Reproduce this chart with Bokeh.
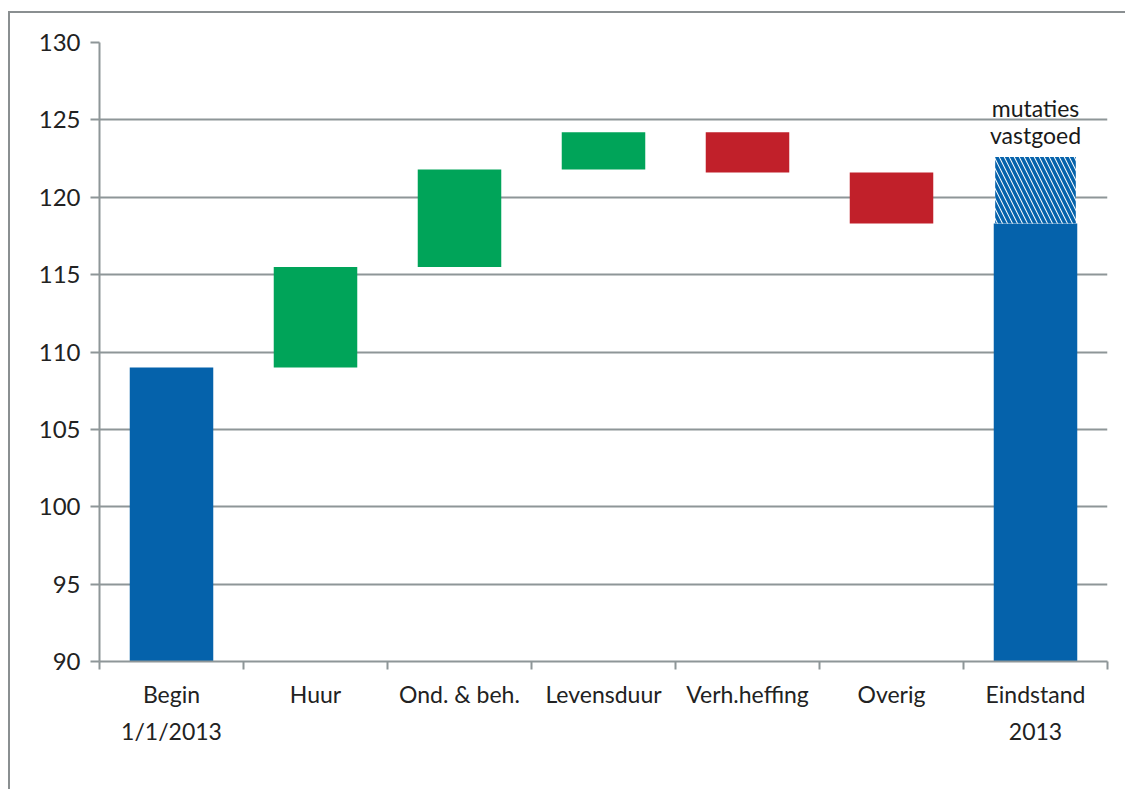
from bokeh.plotting import figure
from bokeh.models import FixedTicker, ColumnDataSource, Range1d
from bokeh.core.properties import value
from bokeh.embed import file_html
from bokeh.resources import INLINE

# ---- data ----
categories = ["Begin\n1/1/2013", "Huur", "Ond. & beh.", "Levensduur",
              "Verh.heffing", "Overig", "Eindstand\n2013"]
start_value = 109.0
changes = [6.5, 6.3, 2.4, -2.6, -3.3]          # Huur .. Overig
mutaties_vastgoed = 4.3
mutaties_label = "mutaties\nvastgoed"
y_ticks = [90, 95, 100, 105, 110, 115, 120, 125, 130]

BLUE = "#0562AB"
GREEN = "#00A459"
RED = "#C1202A"
GRID = "#8E9698"
EDGE = "#8a8f91"
FONT = "Lato"

y_min, y_max = y_ticks[0], y_ticks[-1]
n = len(categories)
xc = [i + 0.5 for i in range(n)]

# waterfall geometry from data
end_value = start_value + sum(changes)
bottoms, tops, colors = [y_min], [start_value], [BLUE]
run = start_value
for c in changes:
    nxt = run + c
    bottoms.append(min(run, nxt))
    tops.append(max(run, nxt))
    colors.append(GREEN if c >= 0 else RED)
    run = nxt
bottoms.append(y_min)
tops.append(end_value)
colors.append(BLUE)

src = ColumnDataSource(dict(x=xc, bottom=bottoms, top=tops, color=colors))

p = figure(width=1125, height=789, output_backend="svg", toolbar_location=None,
           x_range=Range1d(0, n), y_range=Range1d(y_min, y_max),
           min_border_left=99, min_border_top=42, min_border_right=18,
           min_border_bottom=128)
# outer chart border (left & top) drawn as host background behind a transparent canvas
p.styles = {
    "background": (f"linear-gradient({EDGE},{EDGE}) 8px 11px / 2px 100% no-repeat, "
                   f"linear-gradient({EDGE},{EDGE}) 8px 11px / 100% 2px no-repeat, white"),
}
p.outline_line_color = None
p.background_fill_color = "white"
p.border_fill_color = None

p.vbar(x="x", bottom="bottom", top="top", width=0.58, fill_color="color",
       line_color=None, source=src)

# hatched "mutaties vastgoed" segment on final bar
p.vbar(x=[xc[-1]], bottom=[end_value], top=[end_value + mutaties_vastgoed], width=0.56,
       fill_color="white", line_color=None, hatch_pattern="\\", hatch_color=BLUE,
       hatch_scale=10, hatch_weight=3.5)
p.text(x=[xc[-1]], y=[end_value + mutaties_vastgoed], text=[mutaties_label],
       text_align="center", text_baseline="bottom", y_offset=-8,
       text_font=value(FONT), text_font_size="23px", text_color="#1a1a1a",
       text_line_height=0.95)

# axes
p.xgrid.grid_line_color = None
p.ygrid.grid_line_color = GRID
p.ygrid.grid_line_width = 2
p.ygrid.ticker = FixedTicker(ticks=y_ticks)

p.yaxis.ticker = FixedTicker(ticks=y_ticks)
p.yaxis.axis_line_color = GRID
p.yaxis.axis_line_width = 2
p.yaxis.major_tick_line_color = GRID
p.yaxis.major_tick_line_width = 2
p.yaxis.major_tick_out = 9
p.yaxis.major_tick_in = 0
p.yaxis.minor_tick_line_color = None
p.yaxis.major_label_standoff = 10
p.yaxis.major_label_text_font = FONT
p.yaxis.major_label_text_font_size = "24px"
p.yaxis.major_label_text_color = "#222222"

p.xaxis.ticker = FixedTicker(ticks=xc, minor_ticks=list(range(n + 1)))
p.xaxis.major_label_overrides = {x: c for x, c in zip(xc, categories)}
p.xaxis.axis_line_color = GRID
p.xaxis.axis_line_width = 2
p.xaxis.major_tick_line_color = None
p.xaxis.minor_tick_line_color = GRID
p.xaxis.minor_tick_line_width = 2
p.xaxis.minor_tick_out = 8
p.xaxis.minor_tick_in = 0
p.xaxis.major_tick_out = 8
p.xaxis.major_label_standoff = 10
p.xaxis.major_label_text_font = FONT
p.xaxis.major_label_text_font_size = "23px"
p.xaxis.major_label_text_color = "#222222"
p.xaxis.major_label_text_line_height = 1.35

open("out.html", "w").write(file_html(p, INLINE))
